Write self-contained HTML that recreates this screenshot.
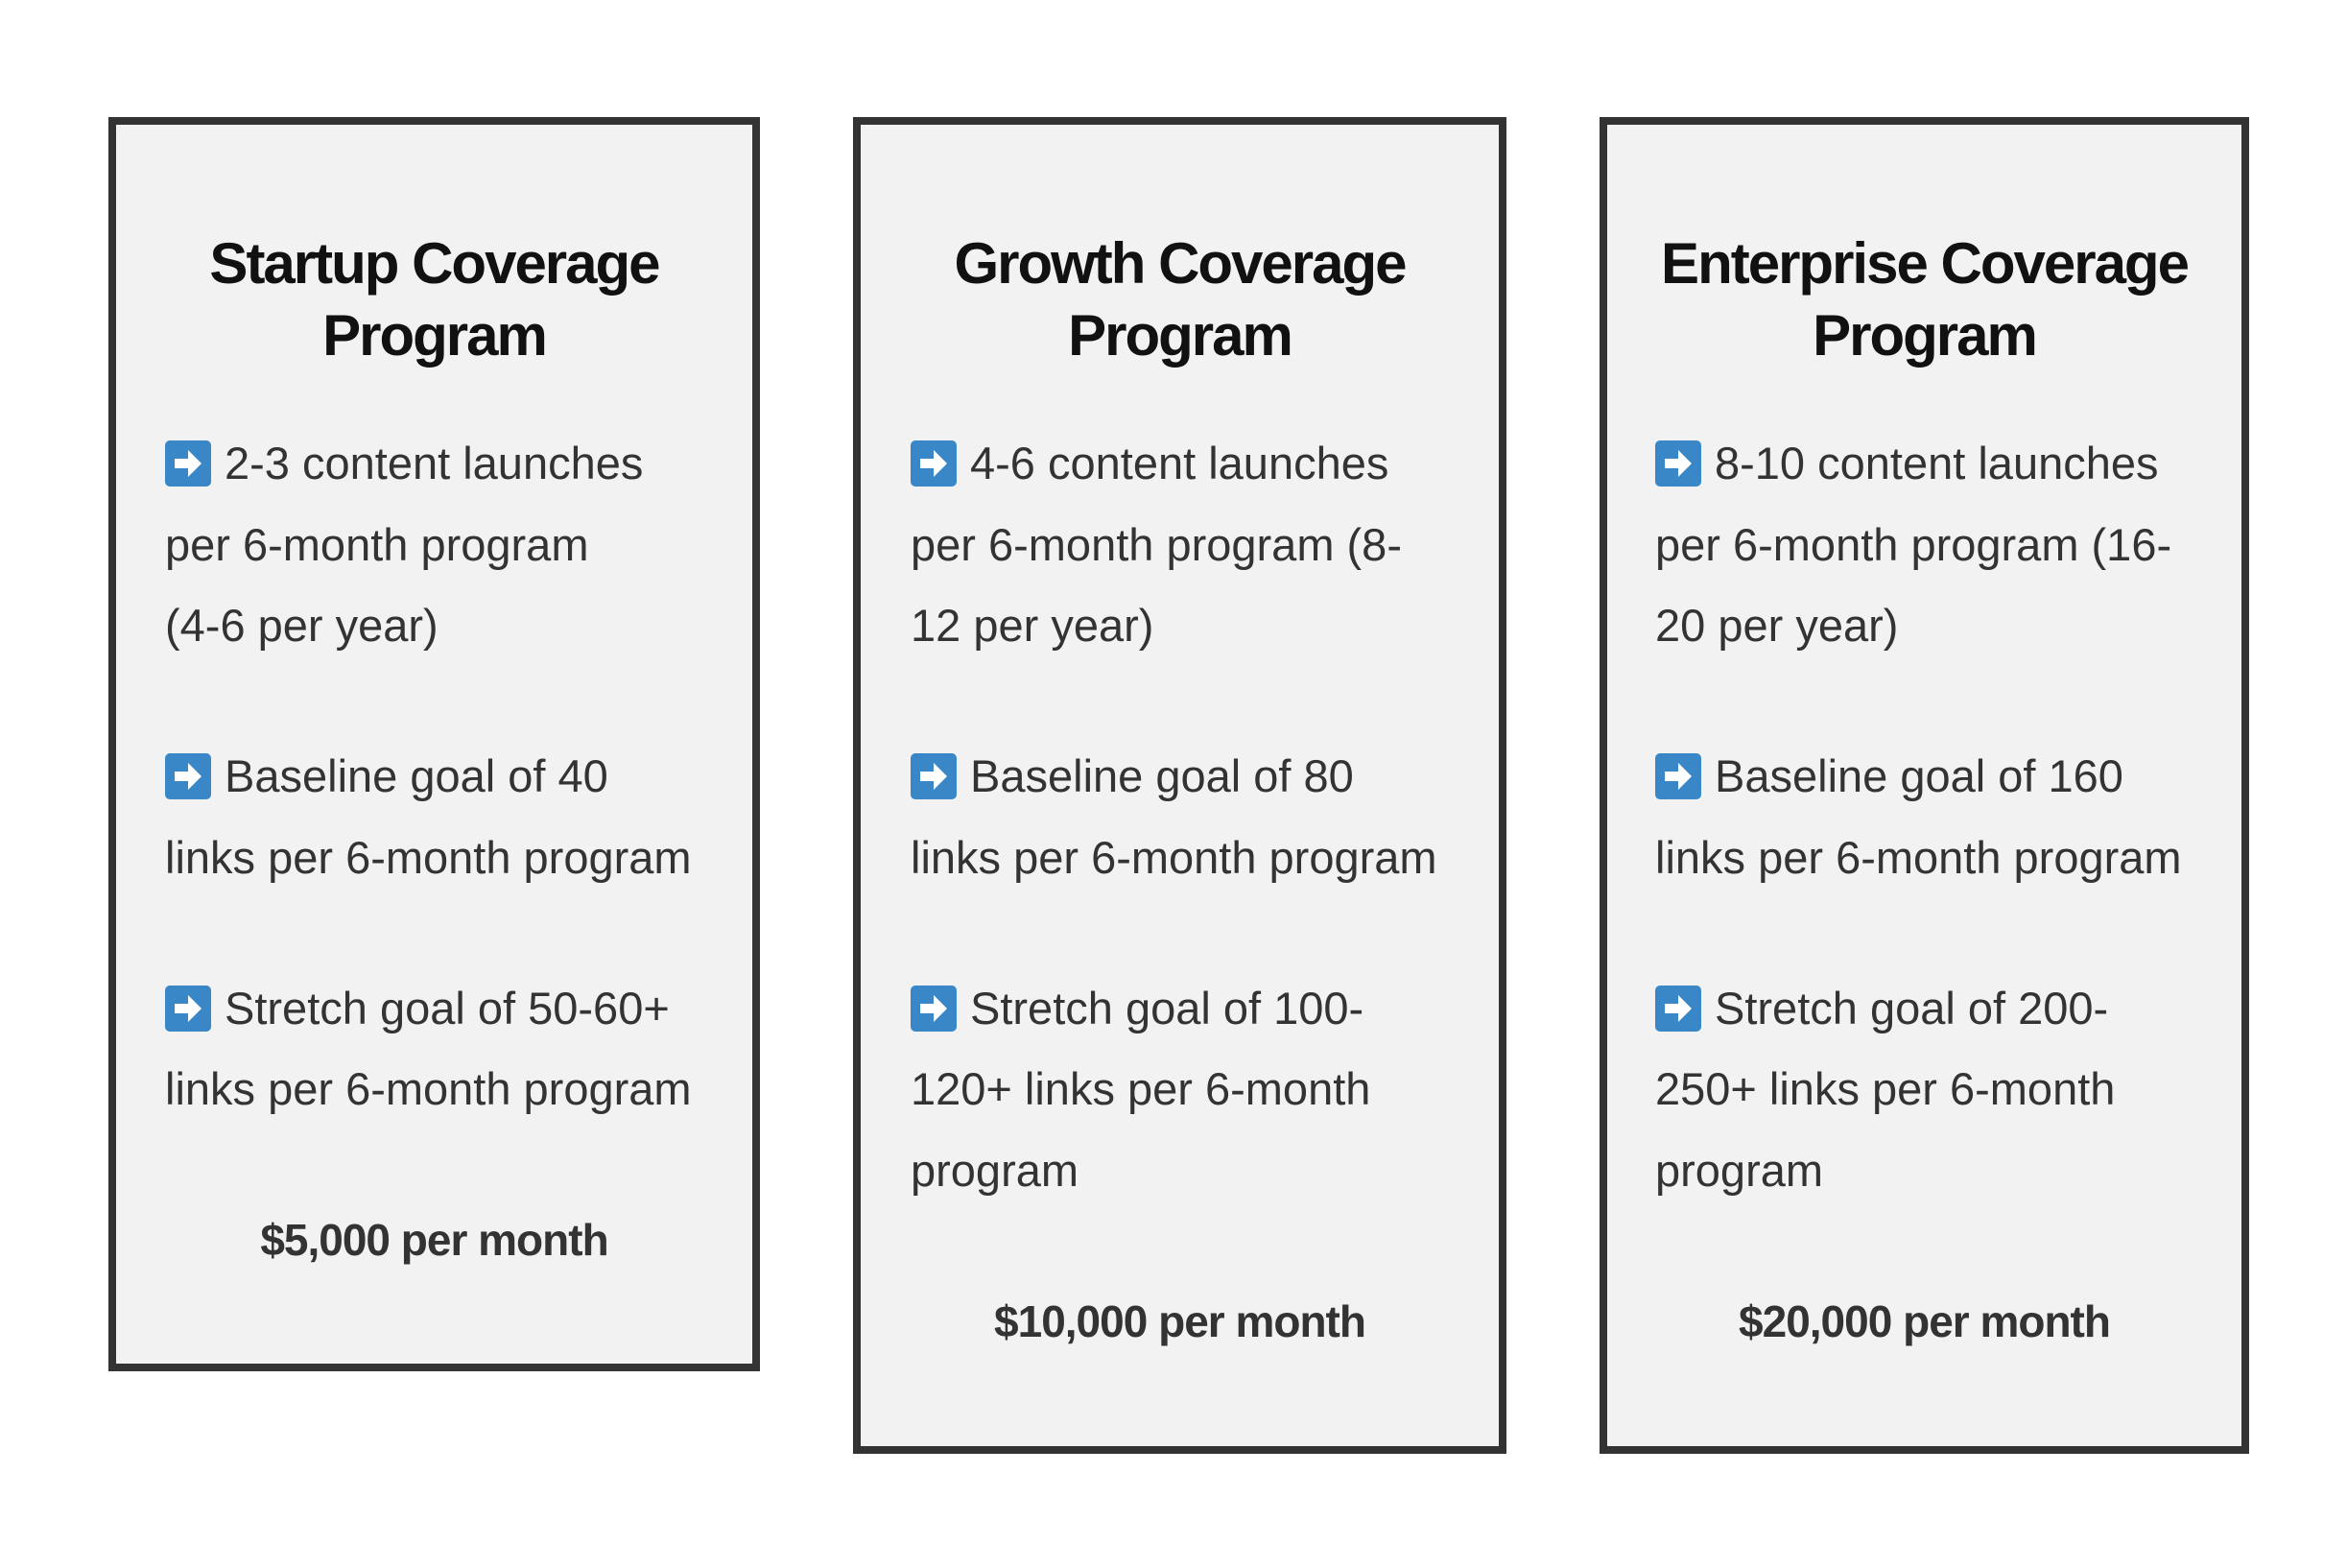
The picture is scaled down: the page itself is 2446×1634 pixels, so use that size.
<!DOCTYPE html>
<html><head><meta charset="utf-8"><style>
html,body{margin:0;padding:0;background:#fff;width:2446px;height:1634px;overflow:hidden;position:relative;font-family:"Liberation Sans",sans-serif}
.card{position:absolute;top:122px;box-sizing:border-box;border:8px solid #333;background:#f2f2f2}
.t{position:absolute;left:0;width:100%;text-align:center;font-weight:bold;font-size:60px;letter-spacing:-2px;color:#111;height:80px;line-height:80px;white-space:nowrap}
.l{position:absolute;font-size:47px;color:#333;height:80px;line-height:80px;white-space:nowrap}
.ic{display:inline-block;width:48px;height:48px;background:#3a87c8;border-radius:5px;vertical-align:middle;position:relative;top:-4px;margin-right:14px}
.ic svg{display:block}
.p{position:absolute;left:0;width:100%;text-align:center;font-weight:bold;font-size:46px;letter-spacing:-1px;color:#333;height:80px;line-height:80px;white-space:nowrap}
</style></head><body>
<svg width="0" height="0" style="position:absolute"><defs><symbol id="arr" viewBox="0 0 48 48"><polygon points="10,19 24,19 24,10 38,24 24,38 24,29 10,29" fill="#fff"/></symbol></defs></svg>

<div class="card" style="left:113px;width:679px;height:1307px">
 <div class="t" style="top:105px">Startup Coverage</div>
 <div class="t" style="top:180px">Program</div>
 <div class="l" style="left:51px;top:313px"><span class="ic"><svg width="48" height="48"><use href="#arr"/></svg></span>2-3 content launches</div>
 <div class="l" style="left:51px;top:398px">per 6-month program</div>
 <div class="l" style="left:51px;top:482px">(4-6 per year)</div>
 <div class="l" style="left:51px;top:639px"><span class="ic"><svg width="48" height="48"><use href="#arr"/></svg></span>Baseline goal of 40</div>
 <div class="l" style="left:51px;top:724px">links per 6-month program</div>
 <div class="l" style="left:51px;top:881px"><span class="ic"><svg width="48" height="48"><use href="#arr"/></svg></span>Stretch goal of 50-60+</div>
 <div class="l" style="left:51px;top:965px">links per 6-month program</div>
 <div class="p" style="top:1122px">$5,000 per month</div>
</div>

<div class="card" style="left:889px;width:681px;height:1393px">
 <div class="t" style="top:105px">Growth Coverage</div>
 <div class="t" style="top:180px">Program</div>
 <div class="l" style="left:52px;top:313px"><span class="ic"><svg width="48" height="48"><use href="#arr"/></svg></span>4-6 content launches</div>
 <div class="l" style="left:52px;top:398px">per 6-month program (8-</div>
 <div class="l" style="left:52px;top:482px">12 per year)</div>
 <div class="l" style="left:52px;top:639px"><span class="ic"><svg width="48" height="48"><use href="#arr"/></svg></span>Baseline goal of 80</div>
 <div class="l" style="left:52px;top:724px">links per 6-month program</div>
 <div class="l" style="left:52px;top:881px"><span class="ic"><svg width="48" height="48"><use href="#arr"/></svg></span>Stretch goal of 100-</div>
 <div class="l" style="left:52px;top:965px">120+ links per 6-month</div>
 <div class="l" style="left:52px;top:1050px">program</div>
 <div class="p" style="top:1207px">$10,000 per month</div>
</div>

<div class="card" style="left:1667px;width:677px;height:1393px">
 <div class="t" style="top:105px">Enterprise Coverage</div>
 <div class="t" style="top:180px">Program</div>
 <div class="l" style="left:50px;top:313px"><span class="ic"><svg width="48" height="48"><use href="#arr"/></svg></span>8-10 content launches</div>
 <div class="l" style="left:50px;top:398px">per 6-month program (16-</div>
 <div class="l" style="left:50px;top:482px">20 per year)</div>
 <div class="l" style="left:50px;top:639px"><span class="ic"><svg width="48" height="48"><use href="#arr"/></svg></span>Baseline goal of 160</div>
 <div class="l" style="left:50px;top:724px">links per 6-month program</div>
 <div class="l" style="left:50px;top:881px"><span class="ic"><svg width="48" height="48"><use href="#arr"/></svg></span>Stretch goal of 200-</div>
 <div class="l" style="left:50px;top:965px">250+ links per 6-month</div>
 <div class="l" style="left:50px;top:1050px">program</div>
 <div class="p" style="top:1207px">$20,000 per month</div>
</div>
</body></html>
